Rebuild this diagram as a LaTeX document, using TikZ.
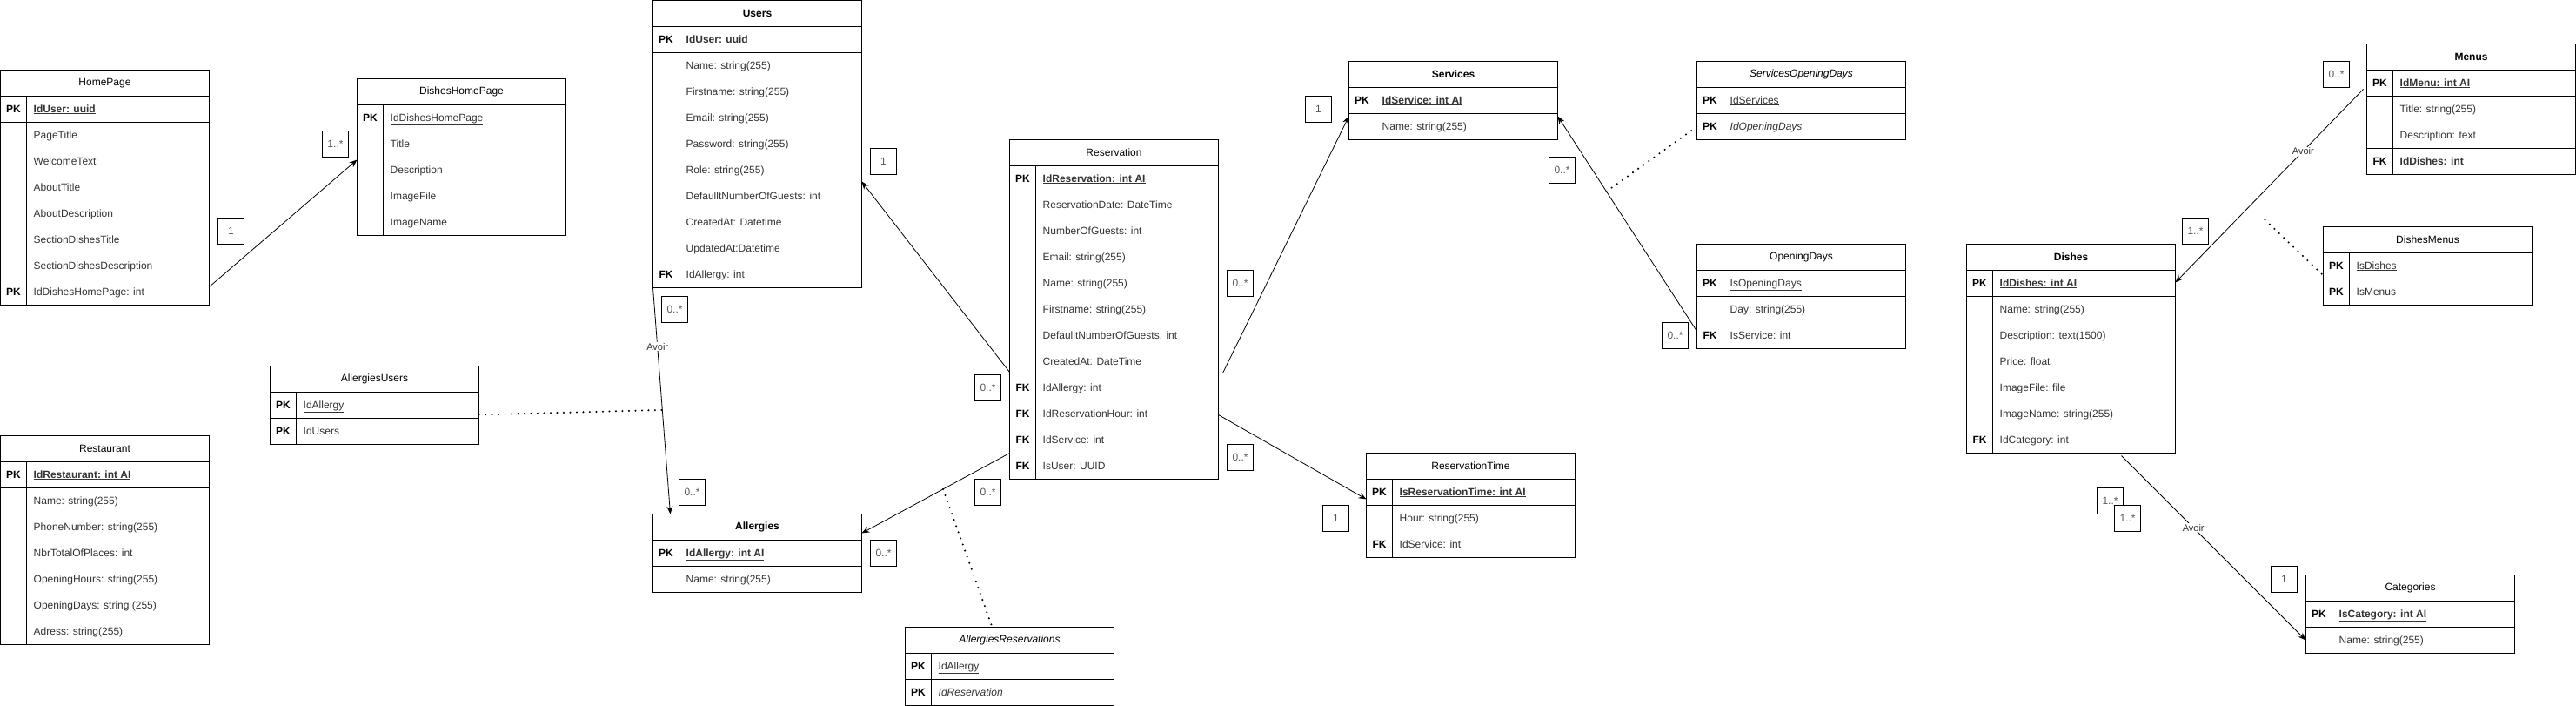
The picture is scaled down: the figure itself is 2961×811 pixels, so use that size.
\documentclass[tikz,border=0pt]{standalone}
\usepackage{fontspec}
\setmainfont{Liberation Sans}
\usetikzlibrary{arrows.meta}

\begin{document}
\begin{tikzpicture}[x=1pt, y=-1pt,
	every node/.style={font=\fontsize{12}{14}\selectfont},
	tbl/.style={draw, line width=1pt, anchor=north west, minimum width=240pt, inner sep=0pt, outer sep=0pt},
	sep/.style={line width=1pt},
	key/.style={font=\fontsize{12}{14}\selectfont\bfseries, inner sep=0pt, text height=9pt, text depth=2pt},
	fld/.style={anchor=west, inner sep=0pt, text height=9pt, text depth=2pt, text=black!80},
	mult/.style={draw, fill=white, line width=0.8pt, minimum size=30pt, inner sep=0pt, text=black!65},
	conn/.style={line width=0.8pt, -{Stealth[length=9pt, width=7pt]}},
	assoc/.style={line width=2.3pt, line cap=round, dash pattern=on 0pt off 7.5pt},
	avoir/.style={fill=white, inner sep=1pt, font=\fontsize{11}{13}\selectfont, text=black!80}]

	\useasboundingbox (-0.5, -0.5) rectangle (2960.5, 810.5);

	% HomePage
	\node[tbl, minimum height=270pt] (homepage) at (0, 80) {};
	\node (hpT) at (120, 95) {HomePage};
	\draw[sep] (0, 110) -- (240, 110);
	\draw[sep] (0, 140) -- (240, 140);
	\draw[sep] (0, 320) -- (240, 320);
	\draw[sep] (30, 110) -- (30, 350);
	\node[key] (hpK1) at (15, 125) {PK};
	\node[fld] (hpF1) at (38, 125) {\bfseries\underline{IdUser: uuid}};
	\node[fld] (hpF2) at (38, 155) {PageTitle};
	\node[fld] (hpF3) at (38, 185) {WelcomeText};
	\node[fld] (hpF4) at (38, 215) {AboutTitle};
	\node[fld] (hpF5) at (38, 245) {AboutDescription};
	\node[fld] (hpF6) at (38, 275) {SectionDishesTitle};
	\node[fld] (hpF7) at (38, 305) {SectionDishesDescription};
	\node[key] (hpK8) at (15, 335) {PK};
	\node[fld] (hpF8) at (38, 335) {IdDishesHomePage: int};

	% DishesHomePage
	\node[tbl, minimum height=180pt] (dishesHP) at (410, 90) {};
	\node (dhpT) at (530, 105) {DishesHomePage};
	\draw[sep] (410, 120) -- (650, 120);
	\draw[sep] (410, 150) -- (650, 150);
	\draw[sep] (440, 120) -- (440, 270);
	\node[key] (dhpK1) at (425, 135) {PK};
	\node[fld] (dhpF1) at (448, 135) {\underline{IdDishesHomePage}};
	\node[fld] (dhpF2) at (448, 165) {Title};
	\node[fld] (dhpF3) at (448, 195) {Description};
	\node[fld] (dhpF4) at (448, 225) {ImageFile};
	\node[fld] (dhpF5) at (448, 255) {ImageName};

	% Restaurant
	\node[tbl, minimum height=240pt] (restaurant) at (0, 500) {};
	\node (rstT) at (120, 515) {Restaurant};
	\draw[sep] (0, 530) -- (240, 530);
	\draw[sep] (0, 560) -- (240, 560);
	\draw[sep] (30, 530) -- (30, 740);
	\node[key] (rstK1) at (15, 545) {PK};
	\node[fld] (rstF1) at (38, 545) {\bfseries\underline{IdRestaurant: int AI}};
	\node[fld] (rstF2) at (38, 575) {Name: string(255)};
	\node[fld] (rstF3) at (38, 605) {PhoneNumber: string(255)};
	\node[fld] (rstF4) at (38, 635) {NbrTotalOfPlaces: int};
	\node[fld] (rstF5) at (38, 665) {OpeningHours: string(255)};
	\node[fld] (rstF6) at (38, 695) {OpeningDays: string (255)};
	\node[fld] (rstF7) at (38, 725) {Adress: string(255)};

	% AllergiesUsers
	\node[tbl, minimum height=90pt] (allerUsers) at (310, 420) {};
	\node (auT) at (430, 435) {AllergiesUsers};
	\draw[sep] (310, 450) -- (550, 450);
	\draw[sep] (310, 480) -- (550, 480);
	\draw[sep] (340, 450) -- (340, 510);
	\node[key] (auK1) at (325, 465) {PK};
	\node[fld] (auF1) at (348, 465) {\underline{IdAllergy}};
	\node[key] (auK2) at (325, 495) {PK};
	\node[fld] (auF2) at (348, 495) {IdUsers};

	% Users
	\node[tbl, minimum height=330pt] (users) at (750, 0) {};
	\node (usrT) at (870, 15) {\bfseries Users};
	\draw[sep] (750, 30) -- (990, 30);
	\draw[sep] (750, 60) -- (990, 60);
	\draw[sep] (780, 30) -- (780, 330);
	\node[key] (usrK1) at (765, 45) {PK};
	\node[fld] (usrF1) at (788, 45) {\bfseries\underline{IdUser: uuid}};
	\node[fld] (usrF2) at (788, 75) {Name: string(255)};
	\node[fld] (usrF3) at (788, 105) {Firstname: string(255)};
	\node[fld] (usrF4) at (788, 135) {Email: string(255)};
	\node[fld] (usrF5) at (788, 165) {Password: string(255)};
	\node[fld] (usrF6) at (788, 195) {Role: string(255)};
	\node[fld] (usrF7) at (788, 225) {DefaulltNumberOfGuests: int};
	\node[fld] (usrF8) at (788, 255) {CreatedAt: Datetime};
	\node[fld] (usrF9) at (788, 285) {UpdatedAt:Datetime};
	\node[key] (usrK10) at (765, 315) {FK};
	\node[fld] (usrF10) at (788, 315) {IdAllergy: int};

	% Allergies
	\node[tbl, minimum height=90pt] (allergies) at (750, 590) {};
	\node (algT) at (870, 605) {\bfseries Allergies};
	\draw[sep] (750, 620) -- (990, 620);
	\draw[sep] (750, 650) -- (990, 650);
	\draw[sep] (780, 620) -- (780, 680);
	\node[key] (algK1) at (765, 635) {PK};
	\node[fld] (algF1) at (788, 635) {\bfseries\underline{IdAllergy: int AI}};
	\node[fld] (algF2) at (788, 665) {Name: string(255)};

	% Reservation
	\node[tbl, minimum height=390pt] (reservation) at (1160, 160) {};
	\node (resT) at (1280, 175) {Reservation};
	\draw[sep] (1160, 190) -- (1400, 190);
	\draw[sep] (1160, 220) -- (1400, 220);
	\draw[sep] (1190, 190) -- (1190, 550);
	\node[key] (resK1) at (1175, 205) {PK};
	\node[fld] (resF1) at (1198, 205) {\bfseries\underline{IdReservation: int AI}};
	\node[fld] (resF2) at (1198, 235) {ReservationDate: DateTime};
	\node[fld] (resF3) at (1198, 265) {NumberOfGuests: int};
	\node[fld] (resF4) at (1198, 295) {Email: string(255)};
	\node[fld] (resF5) at (1198, 325) {Name: string(255)};
	\node[fld] (resF6) at (1198, 355) {Firstname: string(255)};
	\node[fld] (resF7) at (1198, 385) {DefaulltNumberOfGuests: int};
	\node[fld] (resF8) at (1198, 415) {CreatedAt: DateTime};
	\node[key] (resK9) at (1175, 445) {FK};
	\node[fld] (resF9) at (1198, 445) {IdAllergy: int};
	\node[key] (resK10) at (1175, 475) {FK};
	\node[fld] (resF10) at (1198, 475) {IdReservationHour: int};
	\node[key] (resK11) at (1175, 505) {FK};
	\node[fld] (resF11) at (1198, 505) {IdService: int};
	\node[key] (resK12) at (1175, 535) {FK};
	\node[fld] (resF12) at (1198, 535) {IsUser: UUID};

	% AllergiesReservations
	\node[tbl, minimum height=90pt] (allerRes) at (1040, 720) {};
	\node (arT) at (1160, 735) {\itshape AllergiesReservations};
	\draw[sep] (1040, 750) -- (1280, 750);
	\draw[sep] (1040, 780) -- (1280, 780);
	\draw[sep] (1070, 750) -- (1070, 810);
	\node[key] (arK1) at (1055, 765) {PK};
	\node[fld] (arF1) at (1078, 765) {\underline{IdAllergy}};
	\node[key] (arK2) at (1055, 795) {PK};
	\node[fld] (arF2) at (1078, 795) {\itshape IdReservation};

	% Services
	\node[tbl, minimum height=90pt] (services) at (1550, 70) {};
	\node (srvT) at (1670, 85) {\bfseries Services};
	\draw[sep] (1550, 100) -- (1790, 100);
	\draw[sep] (1550, 130) -- (1790, 130);
	\draw[sep] (1580, 100) -- (1580, 160);
	\node[key] (srvK1) at (1565, 115) {PK};
	\node[fld] (srvF1) at (1588, 115) {\bfseries\underline{IdService: int AI}};
	\node[fld] (srvF2) at (1588, 145) {Name: string(255)};

	% ServicesOpeningDays
	\node[tbl, minimum height=90pt] (srvOD) at (1950, 70) {};
	\node (sodT) at (2070, 85) {\itshape ServicesOpeningDays};
	\draw[sep] (1950, 100) -- (2190, 100);
	\draw[sep] (1950, 130) -- (2190, 130);
	\draw[sep] (1980, 100) -- (1980, 160);
	\node[key] (sodK1) at (1965, 115) {PK};
	\node[fld] (sodF1) at (1988, 115) {\underline{IdServices}};
	\node[key] (sodK2) at (1965, 145) {PK};
	\node[fld] (sodF2) at (1988, 145) {\itshape IdOpeningDays};

	% OpeningDays
	\node[tbl, minimum height=120pt] (openDays) at (1950, 280) {};
	\node (odT) at (2070, 295) {OpeningDays};
	\draw[sep] (1950, 310) -- (2190, 310);
	\draw[sep] (1950, 340) -- (2190, 340);
	\draw[sep] (1980, 310) -- (1980, 400);
	\node[key] (odK1) at (1965, 325) {PK};
	\node[fld] (odF1) at (1988, 325) {\underline{IsOpeningDays}};
	\node[fld] (odF2) at (1988, 355) {Day: string(255)};
	\node[key] (odK3) at (1965, 385) {FK};
	\node[fld] (odF3) at (1988, 385) {IsService: int};

	% ReservationTime
	\node[tbl, minimum height=120pt] (resTime) at (1570, 520) {};
	\node (rtT) at (1690, 535) {ReservationTime};
	\draw[sep] (1570, 550) -- (1810, 550);
	\draw[sep] (1570, 580) -- (1810, 580);
	\draw[sep] (1600, 550) -- (1600, 640);
	\node[key] (rtK1) at (1585, 565) {PK};
	\node[fld] (rtF1) at (1608, 565) {\bfseries\underline{IsReservationTime: int AI}};
	\node[fld] (rtF2) at (1608, 595) {Hour: string(255)};
	\node[key] (rtK3) at (1585, 625) {FK};
	\node[fld] (rtF3) at (1608, 625) {IdService: int};

	% Menus
	\node[tbl, minimum height=150pt] (menus) at (2720, 50) {};
	\node (mnT) at (2840, 65) {\bfseries Menus};
	\draw[sep] (2720, 80) -- (2960, 80);
	\draw[sep] (2720, 110) -- (2960, 110);
	\draw[sep] (2720, 170) -- (2960, 170);
	\draw[sep] (2750, 80) -- (2750, 200);
	\node[key] (mnK1) at (2735, 95) {PK};
	\node[fld] (mnF1) at (2758, 95) {\bfseries\underline{IdMenu: int AI}};
	\node[fld] (mnF2) at (2758, 125) {Title: string(255)};
	\node[fld] (mnF3) at (2758, 155) {Description: text};
	\node[key] (mnK4) at (2735, 185) {FK};
	\node[fld] (mnF4) at (2758, 185) {\bfseries IdDishes: int};

	% DishesMenus
	\node[tbl, minimum height=90pt] (dishesMenus) at (2670, 260) {};
	\node (dmT) at (2790, 275) {DishesMenus};
	\draw[sep] (2670, 290) -- (2910, 290);
	\draw[sep] (2670, 320) -- (2910, 320);
	\draw[sep] (2700, 290) -- (2700, 350);
	\node[key] (dmK1) at (2685, 305) {PK};
	\node[fld] (dmF1) at (2708, 305) {\underline{IsDishes}};
	\node[key] (dmK2) at (2685, 335) {PK};
	\node[fld] (dmF2) at (2708, 335) {IsMenus};

	% Dishes
	\node[tbl, minimum height=240pt] (dishes) at (2260, 280) {};
	\node (dsT) at (2380, 295) {\bfseries Dishes};
	\draw[sep] (2260, 310) -- (2500, 310);
	\draw[sep] (2260, 340) -- (2500, 340);
	\draw[sep] (2290, 310) -- (2290, 520);
	\node[key] (dsK1) at (2275, 325) {PK};
	\node[fld] (dsF1) at (2298, 325) {\bfseries\underline{IdDishes: int AI}};
	\node[fld] (dsF2) at (2298, 355) {Name: string(255)};
	\node[fld] (dsF3) at (2298, 385) {Description: text(1500)};
	\node[fld] (dsF4) at (2298, 415) {Price: float};
	\node[fld] (dsF5) at (2298, 445) {ImageFile: file};
	\node[fld] (dsF6) at (2298, 475) {ImageName: string(255)};
	\node[key] (dsK7) at (2275, 505) {FK};
	\node[fld] (dsF7) at (2298, 505) {IdCategory: int};

	% Categories
	\node[tbl, minimum height=90pt] (categories) at (2650, 660) {};
	\node (ctT) at (2770, 675) {Categories};
	\draw[sep] (2650, 690) -- (2890, 690);
	\draw[sep] (2650, 720) -- (2890, 720);
	\draw[sep] (2680, 690) -- (2680, 750);
	\node[key] (ctK1) at (2665, 705) {PK};
	\node[fld] (ctF1) at (2688, 705) {\bfseries\underline{IsCategory: int AI}};
	\node[fld] (ctF2) at (2688, 735) {Name: string(255)};

	% relations
	\draw[conn] ([yshift=-249pt]homepage.north east) -- ([yshift=-93pt]dishesHP.north west);
	\draw[conn] (users.south west) -- coordinate[pos=0.54] (avoirU) node[pos=0.26, avoir] {Avoir} ([xshift=20pt]allergies.north west);
	\draw[assoc] ([yshift=-56pt]allerUsers.north east) -- (avoirU);
	\draw[conn] ([yshift=-267pt]reservation.north west) -- ([yshift=-208pt]users.north east);
	\draw[conn] ([yshift=-360pt]reservation.north west) -- coordinate[pos=0.45] (resAll) ([yshift=-22pt]allergies.north east);
	\draw[assoc] (resAll) -- ([xshift=100pt]allerRes.north west);
	\draw[conn] ([xshift=5pt, yshift=-268pt]reservation.north east) -- ([yshift=-63pt]services.north west);
	\draw[conn] ([yshift=-316pt]reservation.north east) -- ([yshift=-53pt]resTime.north west);
	\draw[conn] ([yshift=-100pt]openDays.north west) -- coordinate[pos=0.65] (odSrv) ([yshift=-63pt]services.north east);
	\draw[assoc] (odSrv) -- ([yshift=-75pt]srvOD.north west);
	\draw[conn] ([xshift=-4pt, yshift=-52pt]menus.north west) -- node[pos=0.32, avoir] {Avoir} ([yshift=-44pt]dishes.north east);
	\coordinate (dmFree) at (2603, 252);
	\draw[assoc] (dmFree) -- ([yshift=-56pt]dishesMenus.north west);
	\draw[conn] ([xshift=178pt, yshift=-3pt]dishes.south west) -- node[pos=0.39, avoir] {Avoir} ([yshift=-75pt]categories.north west);

	% multiplicities
	\node[mult] (mHp) at (265, 265) {1};
	\node[mult] (mDhp) at (385, 165) {1..*};
	\node[mult] (mUsr) at (1015, 185) {1};
	\node[mult] (mUsrAlg) at (775, 355) {0..*};
	\node[mult] (mAlgUsr) at (795, 565) {0..*};
	\node[mult] (mAlgRes) at (1015, 635) {0..*};
	\node[mult] (mResUsr) at (1135, 445) {0..*};
	\node[mult] (mResAlg) at (1135, 565) {0..*};
	\node[mult] (mResSrv) at (1425, 325) {0..*};
	\node[mult] (mResRt) at (1425, 525) {0..*};
	\node[mult] (mSrvRes) at (1515, 125) {1};
	\node[mult] (mSrvOd) at (1795, 195) {0..*};
	\node[mult] (mOdSrv) at (1925, 385) {0..*};
	\node[mult] (mRtRes) at (1535, 595) {1};
	\node[mult] (mMnDs) at (2685, 85) {0..*};
	\node[mult] (mDsMn) at (2523, 265) {1..*};
	\node[mult] (mDsCt) at (2425, 575) {1..*};
	\node[mult] (mDsCt2) at (2445, 595) {1..*};
	\node[mult] (mCtDs) at (2625, 665) {1};

\end{tikzpicture}
\end{document}
